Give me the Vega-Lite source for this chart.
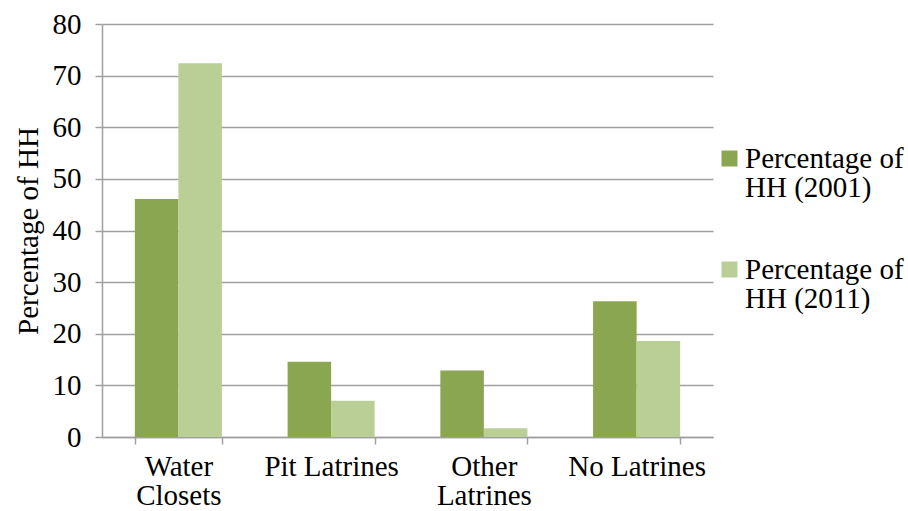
{
  "$schema": "https://vega.github.io/schema/vega-lite/v6.json",
  "width": 611,
  "height": 413,
  "autosize": {"type": "none"},
  "padding": {"left": 102, "top": 24, "right": 195, "bottom": 74},
  "background": "white",
  "config": {
    "view": {"stroke": null},
    "font": "Liberation Serif"
  },
  "data": {
    "values": [
      {"type": "Water Closets", "series": "Percentage of HH (2001)", "pct": 46.1},
      {"type": "Water Closets", "series": "Percentage of HH (2011)", "pct": 72.4},
      {"type": "Pit Latrines", "series": "Percentage of HH (2001)", "pct": 14.6},
      {"type": "Pit Latrines", "series": "Percentage of HH (2011)", "pct": 7.0},
      {"type": "Other Latrines", "series": "Percentage of HH (2001)", "pct": 12.9},
      {"type": "Other Latrines", "series": "Percentage of HH (2011)", "pct": 1.7},
      {"type": "No Latrines", "series": "Percentage of HH (2001)", "pct": 26.3},
      {"type": "No Latrines", "series": "Percentage of HH (2011)", "pct": 18.6}
    ]
  },
  "mark": {"type": "bar"},
  "encoding": {
    "x": {
      "field": "type",
      "type": "nominal",
      "sort": ["Water Closets", "Pit Latrines", "Other Latrines", "No Latrines"],
      "scale": {"paddingInner": 0.43, "paddingOuter": 0.215},
      "axis": {
        "title": null,
        "labelAngle": 0,
        "labelFont": "Liberation Serif",
        "labelFontSize": 29,
        "labelColor": "#000000",
        "labelLineHeight": 29,
        "labelPadding": 8,
        "labelExpr": "datum.value == 'Water Closets' ? ['Water', 'Closets'] : datum.value == 'Other Latrines' ? ['Other', 'Latrines'] : datum.value",
        "tickBand": "extent",
        "tickSize": 7,
        "tickColor": "#a0a0a0",
        "tickWidth": 1.5,
        "domainColor": "#a0a0a0",
        "domainWidth": 1.5,
        "grid": false
      }
    },
    "xOffset": {
      "field": "series",
      "type": "nominal",
      "sort": ["Percentage of HH (2001)", "Percentage of HH (2011)"]
    },
    "y": {
      "field": "pct",
      "type": "quantitative",
      "scale": {"domain": [0, 80], "nice": false},
      "axis": {
        "title": "Percentage of HH",
        "titleFont": "Liberation Serif",
        "titleFontSize": 29,
        "titleFontWeight": "normal",
        "titleColor": "#000000",
        "titlePadding": 9,
        "values": [0, 10, 20, 30, 40, 50, 60, 70, 80],
        "labelFont": "Liberation Serif",
        "labelFontSize": 29,
        "labelColor": "#000000",
        "labelPadding": 14,
        "tickSize": 7,
        "tickColor": "#a0a0a0",
        "tickWidth": 1.5,
        "domainColor": "#a0a0a0",
        "domainWidth": 1.5,
        "grid": true,
        "gridColor": "#a0a0a0",
        "gridWidth": 1.5
      }
    },
    "color": {
      "field": "series",
      "type": "nominal",
      "sort": ["Percentage of HH (2001)", "Percentage of HH (2011)"],
      "scale": {"range": ["#8ba650", "#b9cf96"]},
      "legend": {
        "title": null,
        "orient": "none",
        "legendX": 613,
        "legendY": 120,
        "symbolType": "square",
        "symbolSize": 256,
        "symbolStrokeWidth": 0,
        "labelFont": "Liberation Serif",
        "labelFontSize": 29,
        "labelColor": "#000000",
        "labelLimit": 300,
        "labelOffset": 1,
        "rowPadding": 52,
        "labelExpr": "[slice(datum.label, 0, 13), slice(datum.label, 14)]",
        "encode": {
          "labels": {"update": {"lineHeight": {"value": 29}}}
        }
      }
    }
  }
}
